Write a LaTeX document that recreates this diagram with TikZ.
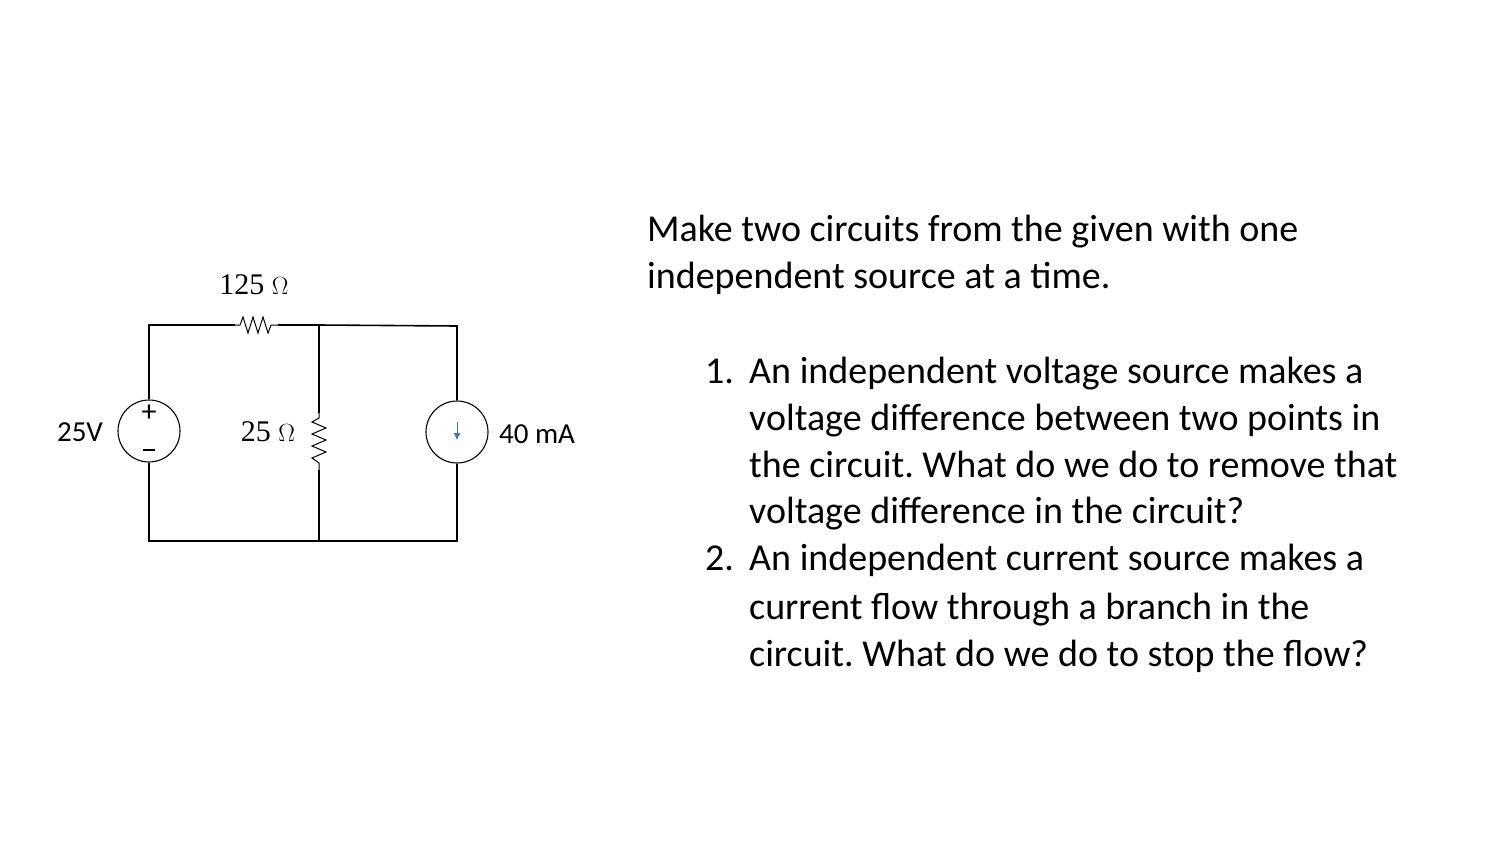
\documentclass[tikz,border=0pt]{standalone}
\usetikzlibrary{arrows.meta}
\usepackage{fontspec}
\setmainfont{Carlito}
\newfontfamily\serifm{Liberation Serif}
\frenchspacing
\begin{document}
\begin{tikzpicture}[x=1pt,y=-1pt,
  wire/.style={line width=1.6pt,line join=miter},
  zz/.style={line width=1pt,line join=miter},
  txt/.style={font=\fontsize{38}{47}\selectfont,anchor=base west,inner sep=0pt},
  lbl/.style={font=\fontsize{29}{32}\selectfont,inner sep=0pt}]
\useasboundingbox (0,0) rectangle (1496,857);
% nodes
\node[circle,draw,line width=1.1pt,minimum size=62pt,inner sep=0pt] (vs) at (149,431) {};
\node[circle,draw,line width=1.1pt,minimum size=62pt,inner sep=0pt] (cs) at (457,432) {};
\coordinate (tl) at (149,325); \coordinate (tm) at (319,325); \coordinate (tr) at (457,326);
\coordinate (bl) at (149,541); \coordinate (bm) at (319,541); \coordinate (br) at (457,541);
\coordinate (r1a) at (235,325); \coordinate (r1b) at (278,325);
\coordinate (r2a) at (319,413); \coordinate (r2b) at (319,470);
% wires
\draw[wire] (vs.north) -- (tl) -- (r1a);
\draw[wire] (r1b) -- (tm) -- (tr) -- (cs.north);
\draw[wire] (tm) -- (r2a);
\draw[wire] (r2b) -- (bm);
\draw[wire] (vs.south) -- (bl) -- (br) -- (cs.south);
% zigzags
\draw[zz] (r1a) -- (240,325) -- (243,317) -- (248,333) -- (253,317) -- (258,333) -- (263,317) -- (268,333) -- (271,325) -- (r1b);
\draw[zz] (r2a) -- (319,418) -- (312,422) -- (326,428) -- (312,434) -- (326,440) -- (312,446) -- (326,452) -- (312,458) -- (319,463) -- (r2b);
% source symbols
\node[font=\fontsize{30}{30}\selectfont,inner sep=0pt] at (149,413) {+};
\draw[line width=1.2pt] (143,450) -- (155,450);
\draw[line width=0.8pt,color={rgb,255:red,68;green,114;blue,196},-{Latex[length=7pt,width=7pt]}] (cs.center)+(0,-10) -- +(0,8);
% labels
\node[lbl] (v) at (80,432) {25V};
\node[lbl] (ia) at (537,434) {40 mA};
\node[lbl,font=\serifm\fontsize{30}{32}\selectfont] (r1) at (254,285) {125 $\Omega$};
\node[lbl,font=\serifm\fontsize{30}{32}\selectfont] (r2) at (268,432) {25 $\Omega$};
% text
\node[txt] (t1) at (647,241) {Make two circuits from the given with one};
\node[txt] (t2) at (647,288) {independent source at a time.};
\node[txt] (n1) at (705,383) {1.};
\node[txt] at (749,383) {An independent voltage source makes a};
\node[txt] at (749,430) {voltage difference between two points in};
\node[txt] at (749,477) {the circuit. What do we do to remove that};
\node[txt] at (749,523) {voltage difference in the circuit?};
\node[txt] (n2) at (705,570) {2.};
\node[txt] at (749,570) {An independent current source makes a};
\node[txt] at (749,619) {current flow through a branch in the};
\node[txt] at (749,666) {circuit. What do we do to stop the flow?};
\end{tikzpicture}
\end{document}
